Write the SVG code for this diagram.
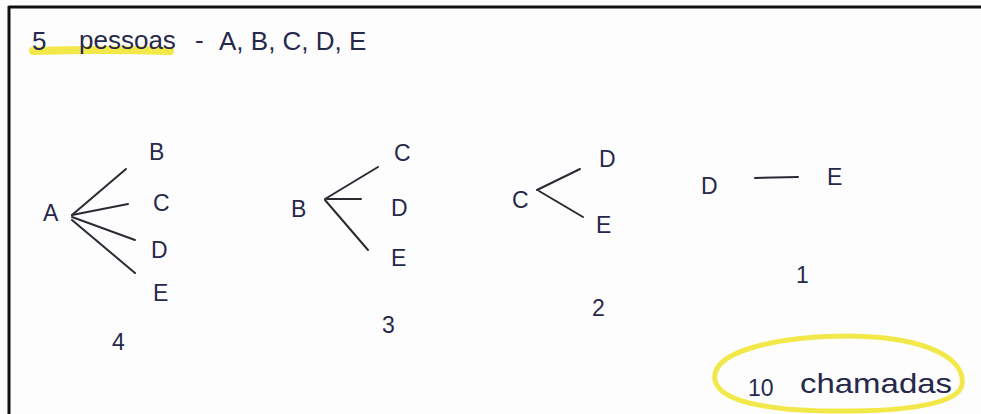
<svg xmlns="http://www.w3.org/2000/svg" width="981" height="414" viewBox="0 0 981 414">
<style>
text{font-family:"Liberation Sans","DejaVu Sans",sans-serif;fill:#26294a;}
.t{font-size:26px;}
.n{font-size:23px;}
.e{stroke:#2a2a33;stroke-width:2;fill:none;stroke-linecap:round;}
</style>
<rect width="981" height="414" fill="#fdfdfd"/>
<line x1="8.5" y1="7" x2="981" y2="7" stroke="#111" stroke-width="3"/>
<line x1="9" y1="6" x2="9" y2="414" stroke="#111" stroke-width="3"/>
<g id="title">
<path d="M33 51 Q100 49 170 51" stroke="#f3e84a" stroke-width="8" fill="none" stroke-linecap="round"/>
<text class="t" x="32" y="50">5</text>
<text class="t" x="79" y="49" font-size="24">pessoas</text>
<text class="t" x="195" y="49">-</text>
<text class="t" x="219" y="50">A, B, C, D, E</text>
</g>
<g id="connectors">
<line class="e" x1="72" y1="215" x2="126" y2="169"/>
<line class="e" x1="72" y1="215" x2="128" y2="204"/>
<line class="e" x1="72" y1="217" x2="135" y2="240"/>
<line class="e" x1="72" y1="220" x2="135" y2="273"/>
<line class="e" x1="325" y1="199" x2="378" y2="167"/>
<line class="e" x1="327" y1="199" x2="361" y2="199"/>
<line class="e" x1="325" y1="200" x2="368" y2="250"/>
<line class="e" x1="537" y1="190" x2="580" y2="169"/>
<line class="e" x1="539" y1="191" x2="583" y2="217"/>
<line class="e" x1="755" y1="178" x2="798" y2="177"/>
</g>
<g id="tree-a">
<text class="n" x="43" y="221">A</text>
<text class="n" x="149" y="160">B</text>
<text class="n" x="153" y="211">C</text>
<text class="n" x="151" y="258">D</text>
<text class="n" x="153" y="301">E</text>
<text class="n" x="112" y="350">4</text>
</g>
<g id="tree-b">
<text class="n" x="291" y="217">B</text>
<text class="n" x="394" y="161">C</text>
<text class="n" x="391" y="216">D</text>
<text class="n" x="391" y="266">E</text>
<text class="n" x="382" y="333">3</text>
</g>
<g id="tree-c">
<text class="n" x="512" y="208">C</text>
<text class="n" x="599" y="167">D</text>
<text class="n" x="596" y="233">E</text>
<text class="n" x="592" y="316">2</text>
</g>
<g id="pair-de">
<text class="n" x="701" y="194">D</text>
<text class="n" x="827" y="185">E</text>
<text class="n" x="796" y="283">1</text>
</g>
<g id="total">
<path d="M715 380 C710 348 790 336 850 336 C930 337 966 360 962 385 C958 405 900 412 830 411 C760 410 719 400 715 380 Z" stroke="#f3e84a" stroke-width="5" fill="none"/>
<text class="n" x="748" y="396">10</text>
<text x="800" y="393" font-size="28" textLength="152" lengthAdjust="spacingAndGlyphs">chamadas</text>
</g>
</svg>
